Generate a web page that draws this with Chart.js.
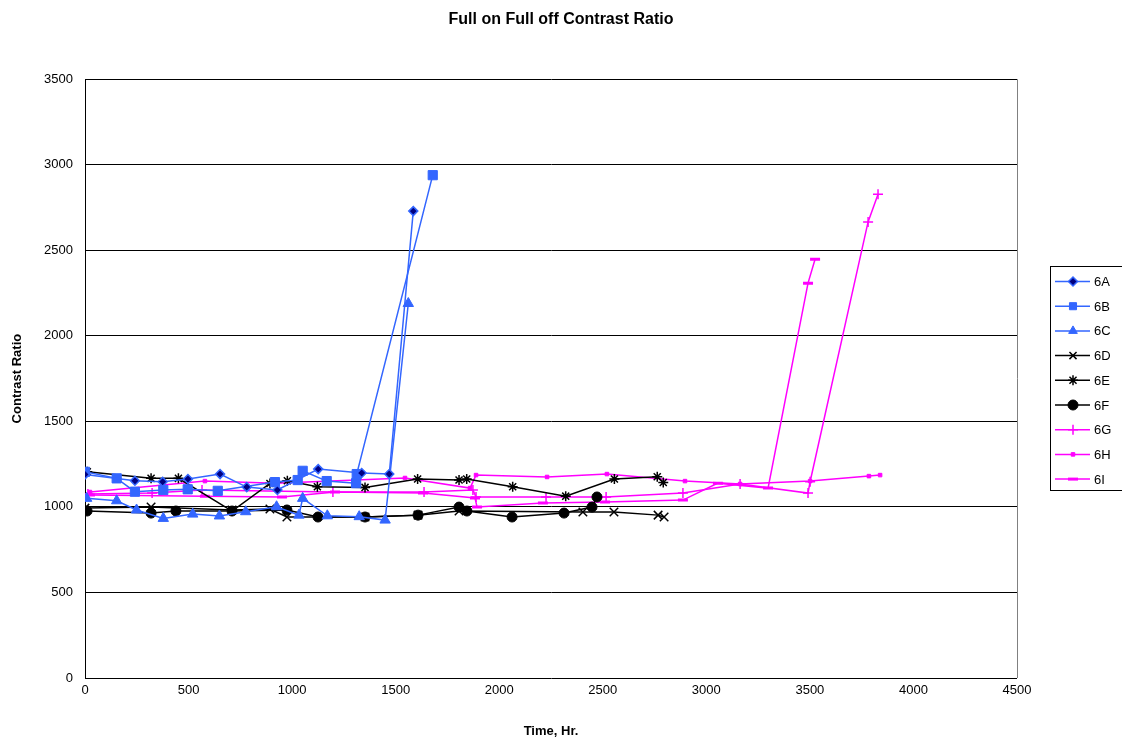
<!DOCTYPE html>
<html>
<head>
<meta charset="utf-8">
<script src="https://cdn.jsdelivr.net/npm/chart.js@4/dist/chart.umd.min.js"></script>
<style>
  html, body { margin: 0; padding: 0; background: #fff; }
  canvas { display: block; }
</style>
</head>
<body>
<canvas id="c" width="1122" height="740"></canvas>
<script>
// ---- Data (hours, contrast ratio) ----
const seriesNames = ['6A', '6B', '6C', '6D', '6E', '6F', '6G', '6H', '6I'];

const x6A = [0, 241, 375, 497, 652, 781, 929, 1126, 1336, 1469, 1585];
const y6A = [1190, 1153, 1147, 1163, 1192, 1116, 1099, 1221, 1198, 1192, 2729];

const x6B = [0, 153, 241, 378, 496, 641, 917, 1027, 1051, 1167, 1309, 1312, 1679];
const y6B = [1205, 1167, 1089, 1099, 1103, 1094, 1145, 1157, 1211, 1151, 1139, 1192, 2939];

const x6C = [8, 153, 249, 378, 520, 649, 776, 925, 1033, 1051, 1170, 1324, 1449, 1561];
const y6C = [1050, 1036, 982, 933, 958, 947, 972, 1001, 952, 1050, 948, 943, 923, 2189];

const x6D = [0, 319, 710, 893, 975, 1352, 1608, 1806, 2404, 2554, 2767, 2796];
const y6D = [993, 999, 982, 988, 941, 941, 952, 976, 970, 970, 952, 941];

const x6E = [11, 319, 451, 710, 893, 977, 1122, 1352, 1606, 1806, 1843, 2065, 2321, 2556, 2763, 2792];
const y6E = [1205, 1167, 1167, 976, 1137, 1153, 1118, 1114, 1163, 1157, 1163, 1118, 1063, 1163, 1176, 1143];

const x6F = [10, 319, 439, 710, 975, 1125, 1352, 1608, 1806, 1844, 2062, 2313, 2448, 2472];
const y6F = [976, 964, 976, 976, 982, 941, 941, 952, 999, 976, 941, 964, 999, 1058];

const x6G = [14, 324, 565, 1197, 1637, 1873, 1888, 2226, 2516, 2887, 3163, 3491, 3501, 3781, 3829];
const y6G = [1075, 1081, 1099, 1087, 1087, 1099, 1058, 1058, 1058, 1081, 1134, 1081, 1147, 2666, 2828];

const x6H = [24, 579, 922, 1545, 1859, 1888, 2231, 2520, 2897, 3163, 3501, 3785, 3839];
const y6H = [1087, 1151, 1139, 1169, 1110, 1186, 1175, 1192, 1151, 1134, 1151, 1180, 1186];

const x6I = [24, 579, 951, 1207, 1632, 1883, 1893, 2211, 2511, 2887, 3056, 3298, 3491, 3525];
const y6I = [1069, 1063, 1058, 1087, 1081, 1052, 999, 1023, 1028, 1040, 1139, 1110, 2308, 2448];

const xTicks = [0, 500, 1000, 1500, 2000, 2500, 3000, 3500, 4000, 4500];
const yTicks = [0, 500, 1000, 1500, 2000, 2500, 3000, 3500];

// ---- Build datasets ----
const FONT = "'Liberation Sans', Arial, sans-serif";
const BLUE = '#3366FF';
const NAVY = '#000080';
const MAG = '#FF00FF';
const BLK = '#000000';

function pts(xs, ys) { return xs.map((x, i) => ({ x: x, y: ys[i] })); }

const styles = {
  '6A': { line: BLUE, style: 'rectRot', r: 4.5, fill: NAVY, stroke: BLUE, bw: 1.5 },
  '6B': { line: BLUE, style: 'rect', r: 6.5, fill: BLUE, stroke: BLUE, bw: 1 },
  '6C': { line: BLUE, style: 'triangle', r: 6, fill: BLUE, stroke: BLUE, bw: 1 },
  '6D': { line: BLK, style: 'crossRot', r: 6, fill: BLK, stroke: BLK, bw: 1.5 },
  '6E': { line: BLK, style: 'star', r: 5, fill: BLK, stroke: BLK, bw: 1.5 },
  '6F': { line: BLK, style: 'circle', r: 5, fill: BLK, stroke: BLK, bw: 1 },
  '6G': { line: MAG, style: 'cross', r: 5, fill: MAG, stroke: MAG, bw: 1.5 },
  '6H': { line: MAG, style: 'rect', r: 2.5, fill: MAG, stroke: MAG, bw: 1 },
  '6I': { line: MAG, style: 'line', r: 5, fill: MAG, stroke: MAG, bw: 3 }
};

const xs = { '6A': x6A, '6B': x6B, '6C': x6C, '6D': x6D, '6E': x6E, '6F': x6F, '6G': x6G, '6H': x6H, '6I': x6I };
const ys = { '6A': y6A, '6B': y6B, '6C': y6C, '6D': y6D, '6E': y6E, '6F': y6F, '6G': y6G, '6H': y6H, '6I': y6I };

const datasets = seriesNames.map(n => {
  const s = styles[n];
  return {
    label: n,
    data: pts(xs[n], ys[n]),
    showLine: true,
    borderColor: s.line,
    backgroundColor: s.fill,
    borderWidth: 1.5,
    pointStyle: s.style,
    pointRadius: s.r,
    pointHoverRadius: s.r,
    pointBackgroundColor: s.fill,
    pointBorderColor: s.stroke,
    pointBorderWidth: s.bw,
    tension: 0
  };
});

// ---- Custom legend (line + marker, Excel style) ----
const legendPlugin = {
  id: 'excelLegend',
  afterDraw(chart) {
    const ctx = chart.ctx;
    const left = 1050, top = 266, w = 90, h = 224;
    ctx.save();
    ctx.strokeStyle = '#000';
    ctx.lineWidth = 1;
    ctx.strokeRect(left + 0.5, top + 0.5, w, h);
    const step = 24.7;
    seriesNames.forEach((n, i) => {
      const s = styles[n];
      const cy = top + 15.5 + i * step;
      ctx.strokeStyle = s.line;
      ctx.lineWidth = 1.5;
      ctx.beginPath();
      ctx.moveTo(1055, cy);
      ctx.lineTo(1090, cy);
      ctx.stroke();
      ctx.fillStyle = s.fill;
      ctx.strokeStyle = s.stroke;
      ctx.lineWidth = s.bw;
      const opts = { pointStyle: s.style, radius: Math.min(s.r, 5), borderWidth: s.bw, rotation: 0 };
      if (Chart.helpers && Chart.helpers.drawPoint) {
        Chart.helpers.drawPoint(ctx, opts, 1073, cy);
      }
      ctx.fillStyle = '#000';
      ctx.font = '13px ' + FONT;
      ctx.textAlign = 'left';
      ctx.textBaseline = 'middle';
      ctx.fillText(n, 1094, cy + 1);
    });
    ctx.restore();
  }
};

const plainTick = (v) => String(v);

new Chart(document.getElementById('c'), {
  type: 'scatter',
  data: { datasets: datasets },
  plugins: [legendPlugin],
  options: {
    responsive: false,
    animation: false,
    devicePixelRatio: 1,
    layout: { padding: { left: 0, right: 0, top: 0, bottom: 0 } },
    plugins: {
      legend: { display: false },
      tooltip: { enabled: false },
      title: {
        display: true,
        text: 'Full on Full off Contrast Ratio',
        color: '#000',
        font: { family: FONT, size: 16, weight: 'bold' },
        padding: { top: 10, bottom: 50 }
      }
    },
    scales: {
      x: {
        type: 'linear',
        min: 0,
        max: 4500,
        afterBuildTicks: (s) => { s.ticks = xTicks.map(v => ({ value: v })); },
        afterFit: (s) => { s.height = 62; },
        ticks: { color: '#000', font: { family: FONT, size: 13 }, padding: 5, maxRotation: 0, autoSkip: false, callback: plainTick },
        grid: {
          drawTicks: false,
          color: (c) => (c.tick && c.tick.value === 4500) ? '#808080' : 'rgba(0,0,0,0)',
          lineWidth: 1
        },
        border: { display: false },
        title: {
          display: true,
          text: 'Time, Hr.',
          color: '#000',
          font: { family: FONT, size: 13, weight: 'bold' },
          padding: { top: 0, bottom: 1.2 }
        }
      },
      y: {
        type: 'linear',
        position: 'left',
        min: 0,
        max: 3500,
        afterBuildTicks: (s) => { s.ticks = yTicks.map(v => ({ value: v })); },
        afterFit: (s) => { s.width = 85; },
        ticks: { color: '#000', font: { family: FONT, size: 13 }, padding: 12, autoSkip: false, callback: plainTick },
        grid: { drawTicks: false, color: '#000', lineWidth: 1 },
        border: { display: true, color: '#000', width: 1 },
        title: {
          display: true,
          text: 'Contrast Ratio',
          color: '#000',
          font: { family: FONT, size: 13, weight: 'bold' },
          padding: { top: 9.2, bottom: 0 }
        }
      },
      yRight: {
        type: 'linear',
        position: 'right',
        display: true,
        min: 0,
        max: 3500,
        afterFit: (s) => { s.width = 105; },
        ticks: { display: false },
        grid: { display: false, drawTicks: false },
        border: { display: false }
      }
    }
  }
});
</script>
</body>
</html>
